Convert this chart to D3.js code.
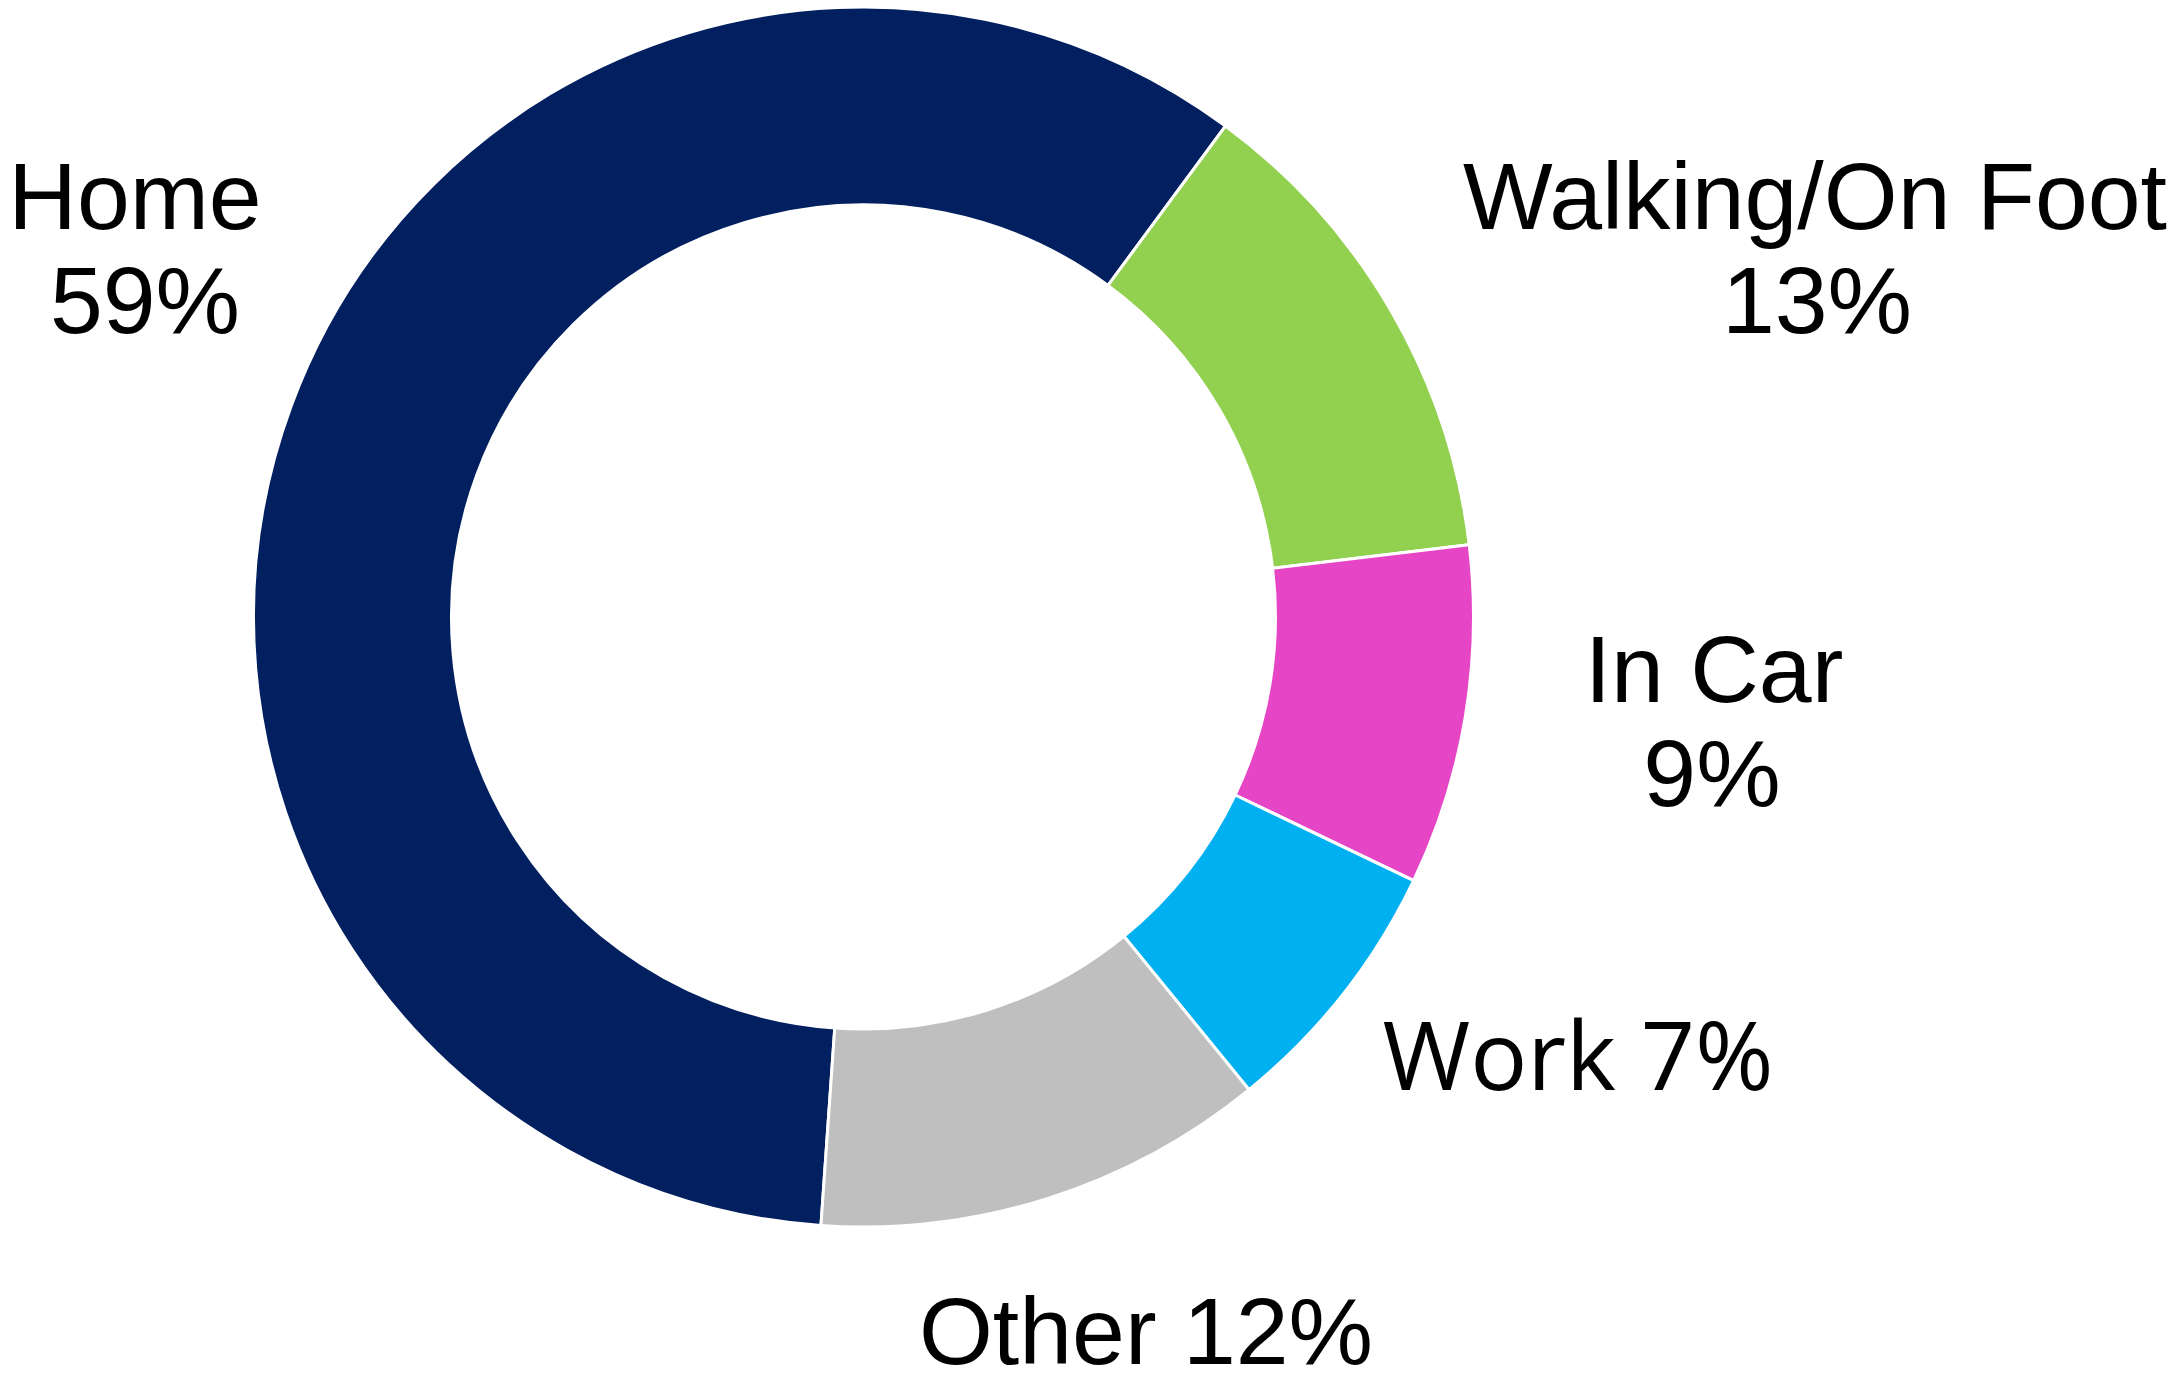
<!DOCTYPE html>
<html>
<head>
<meta charset="utf-8">
<script src="https://cdn.jsdelivr.net/npm/d3@7"></script>
<style>
  html, body { margin: 0; padding: 0; background: #fff; }
  svg { display: block; }
</style>
</head>
<body>
<div id="chart"></div>
<script>
// data
var categories = ["Home", "Walking/On Foot", "In Car", "Work", "Other"];
var values = [59, 13, 9, 7, 12];
var colors = ["#022060", "#92D050", "#E646C6", "#00B0F0", "#BFBFBF"];

var W = 2177, H = 1375;
var cx = 863.5, cy = 617, outerR = 610, innerR = 412;

// where each label sits, and whether name and percent are split on two lines
var labelLayout = [
  {x: 135, y: 229, split: true, pctDx: 10},
  {x: 1815, y: 229, split: true, pctDx: 2},
  {x: 1714, y: 702, split: true, pctDx: -2},
  {x: 1578, y: 1090, split: false, font: "'Open Sans', 'Noto Sans', sans-serif"},
  {x: 1146, y: 1364, split: false}
];
var lineGap = 104;

var svg = d3.select("#chart").append("svg")
  .attr("width", W)
  .attr("height", H);

var start = 2 * Math.PI * (36.4 / 360 - values[0] / 100);

var pie = d3.pie()
  .sort(null)
  .value(function(d) { return d; })
  .startAngle(start)
  .endAngle(start + 2 * Math.PI);

var arc = d3.arc()
  .innerRadius(innerR)
  .outerRadius(outerR);

var g = svg.append("g")
  .attr("transform", "translate(" + cx + "," + cy + ")");

g.selectAll("path")
  .data(pie(values))
  .enter()
  .append("path")
  .attr("d", arc)
  .attr("fill", function(d, i) { return colors[i]; })
  .attr("stroke", "#fff")
  .attr("stroke-width", 3)
  .attr("stroke-linejoin", "miter");

// labels
var labels = svg.selectAll(".lbl")
  .data(categories)
  .enter()
  .append("text")
  .attr("class", "lbl")
  .attr("text-anchor", "middle")
  .attr("font-family", function(d, i) { return labelLayout[i].font || "'Liberation Sans', Arial, sans-serif"; })
  .attr("font-size", 95)
  .attr("fill", "#000");

labels.each(function(d, i) {
  var t = d3.select(this);
  var lay = labelLayout[i];
  var pct = values[i] + "%";
  if (lay.split) {
    t.append("tspan").attr("x", lay.x).attr("y", lay.y).text(d);
    t.append("tspan").attr("x", lay.x + (lay.pctDx || 0)).attr("y", lay.y + lineGap).text(pct);
  } else {
    t.append("tspan").attr("x", lay.x).attr("y", lay.y).text(d + " " + pct);
  }
});
</script>
</body>
</html>
